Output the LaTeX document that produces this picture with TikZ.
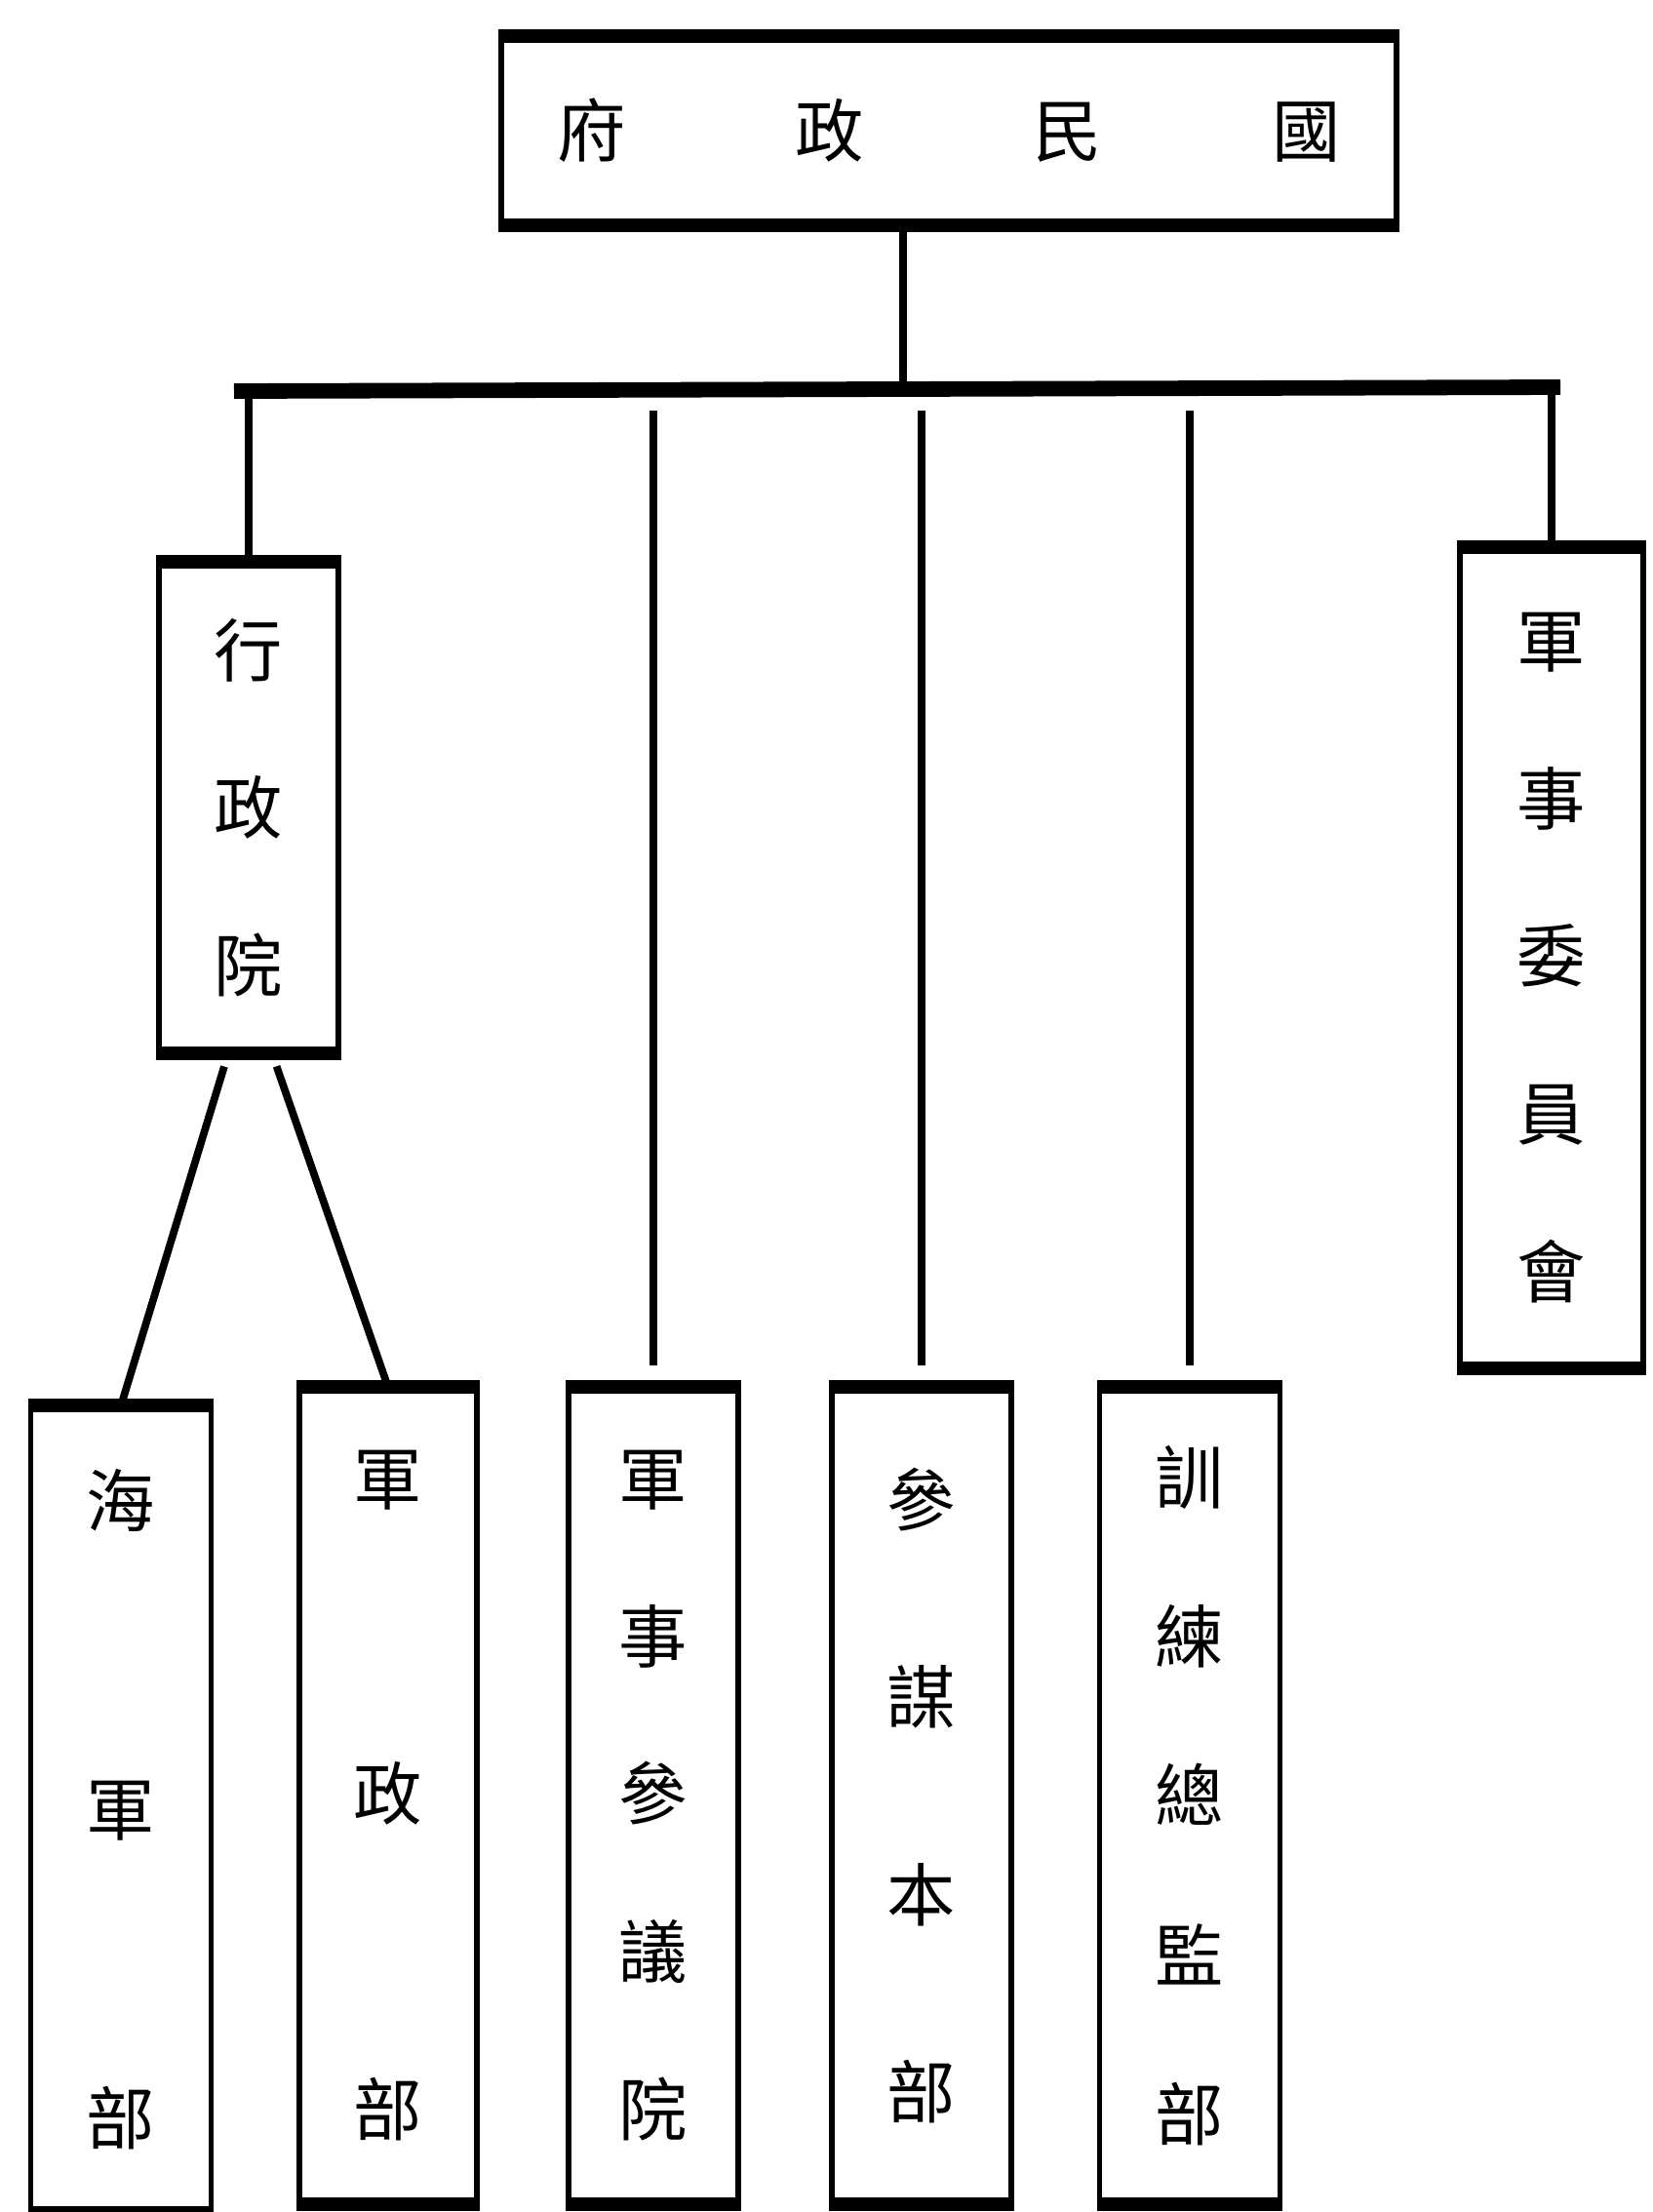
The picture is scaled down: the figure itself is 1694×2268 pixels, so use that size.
\documentclass[tikz,border=0pt]{standalone}
\usepackage{fontspec}
\newfontfamily\cjk{Noto Sans CJK TC}
\begin{document}
\begin{tikzpicture}
[x=0.02cm,y=-0.02cm,
 boxdecorate/.style={shape=rectangle,draw,line width=3pt,inner sep=0pt,align=center},%
 edgedecorate/.style={-,line width=8pt},%
 linedecorate/.style={-,line width=4.4pt},%
 bardecorate/.style={-,line width=9pt}]
\useasboundingbox (0,0) rectangle (1694,2268);
%% boxes
\foreach \nodename/\x/\y/\w/\h/\linegap/\chars in {
  guo/973/134/18.36/3.78/40/{府\hspace{99pt}政\hspace{99pt}民\hspace{99pt}國},
  xingzheng/255/828/3.68/9.98/92/{行\\政\\院},
  junwei/1591/982/3.76/16.72/92/{軍\\事\\委\\員\\會},
  haijun/124/1855/3.7/16.44/180/{海\\軍\\部},
  junzheng/398/1841/3.64/16.64/184/{軍\\政\\部},
  canyi/670/1841/3.48/16.64/92/{軍\\事\\參\\議\\院},
  canmou/945/1841/3.68/16.64/115/{參\\謀\\本\\部},
  xunlian/1220/1841/3.7/16.64/93/{訓\\練\\總\\監\\部}} {
  \node (\nodename) at (\x,\y) [boxdecorate, minimum width=\w cm,
    minimum height=\h cm, font=\cjk\fontsize{40}{\linegap}\selectfont] {\chars};
  \draw[edgedecorate] (\nodename.north west) -- (\nodename.north east);
  \draw[edgedecorate] (\nodename.south west) -- (\nodename.south east);
}
%% connectors
\coordinate (stem) at (926,400);
\coordinate (barL) at (240,401);
\coordinate (barR) at (1600,397);
\draw[linedecorate] (stem |- guo.south) -- (stem);
\draw[bardecorate] (barL) -- (barR);
\path
\foreach \endnode in {xingzheng, junwei} {
  (\endnode.north |- barL) edge[linedecorate] (\endnode.north)
};
\path
\foreach \endnode in {canyi, canmou, xunlian} {
  (\endnode.north |- barL) edge[linedecorate, shorten <=0.4cm, shorten >=0.44cm] (\endnode.north)
};
\draw[linedecorate, shorten <=0.28cm] ([xshift=-0.42cm]xingzheng.south) -- (haijun.north);
\draw[linedecorate, shorten <=0.28cm] ([xshift=0.48cm]xingzheng.south) -- (junzheng.north);
\end{tikzpicture}
\end{document}
